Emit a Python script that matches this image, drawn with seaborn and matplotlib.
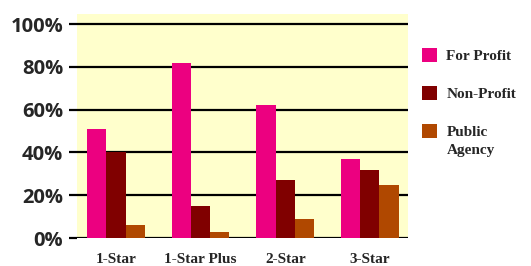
import pandas as pd
import matplotlib
matplotlib.use("Agg")
import matplotlib.pyplot as plt
import seaborn as sns
from matplotlib.patches import Patch

# Chart data
ratings = ["1-Star", "1-Star Plus", "2-Star", "3-Star"]
owner_types = ["For Profit", "Non-Profit", "Public Agency"]
for_profit = [51, 82, 62, 37]
non_profit = [40, 15, 27, 32]
public_agency = [6, 3, 9, 25]
y_ticks = [0, 20, 40, 60, 80, 100]

colors = ["#EC0080", "#800000", "#B04800"]

rows = []
for i, r in enumerate(ratings):
    for t, vals in zip(owner_types, [for_profit, non_profit, public_agency]):
        rows.append({"rating": r, "type": t, "pct": vals[i]})
df = pd.DataFrame(rows)

sns.set_style("white")
fig = plt.figure(figsize=(5.31, 2.66), dpi=100)
ax = fig.add_axes([77 / 531, 1 - 238 / 266, (408 - 77) / 531, (238 - 14) / 266])

sns.barplot(data=df, x="rating", y="pct", hue="type", hue_order=owner_types,
            palette=colors, width=0.68, saturation=1, linewidth=0, ax=ax, legend=False)

ax.set_facecolor("#FFFFCC")
ax.set_xlim(-0.46, 3.45)
ax.set_ylim(0, 104.7)
ax.set_yticks(y_ticks)
ax.set_yticklabels([f"{v}%" for v in y_ticks], family="Open Sans",
                   fontweight="bold", fontsize=14.5)
ax.set_xticks(range(len(ratings)))
ax.set_xticklabels(ratings, family="Liberation Serif", fontweight="bold", fontsize=11)
ax.yaxis.grid(True, color="black", linewidth=1.6)
ax.set_axisbelow(True)
ax.tick_params(axis="y", left=True, length=6, width=1.6, color="black", pad=4)
ax.tick_params(axis="x", length=0, pad=10.5)
for s in ax.spines.values():
    s.set_visible(False)
ax.set_xlabel("")
ax.set_ylabel("")

# legend: the last label wraps, with its handle beside the first line
leg_font = {"family": "Liberation Serif", "weight": "bold", "size": 11}
first_words = [t.split(" ")[0] if t == owner_types[-1] else t for t in owner_types]
handles = [Patch(facecolor=c, edgecolor="none") for c in colors]
leg = ax.legend(handles, first_words, loc="upper left",
                bbox_to_anchor=(422 / 531, 1 - 48 / 266), bbox_transform=fig.transFigure,
                frameon=False, borderpad=0, borderaxespad=0,
                handlelength=1.0, handleheight=1.0, handletextpad=0.6,
                labelspacing=1.5, prop=leg_font)

fig.canvas.draw()
last = leg.get_texts()[-1]
bb = last.get_window_extent().transformed(fig.transFigure.inverted())
fig.text(bb.x0, bb.y0 - 18 / 266, owner_types[-1].split(" ", 1)[1],
         ha="left", va="bottom", **leg_font)

fig.savefig("out.png", dpi=100)
